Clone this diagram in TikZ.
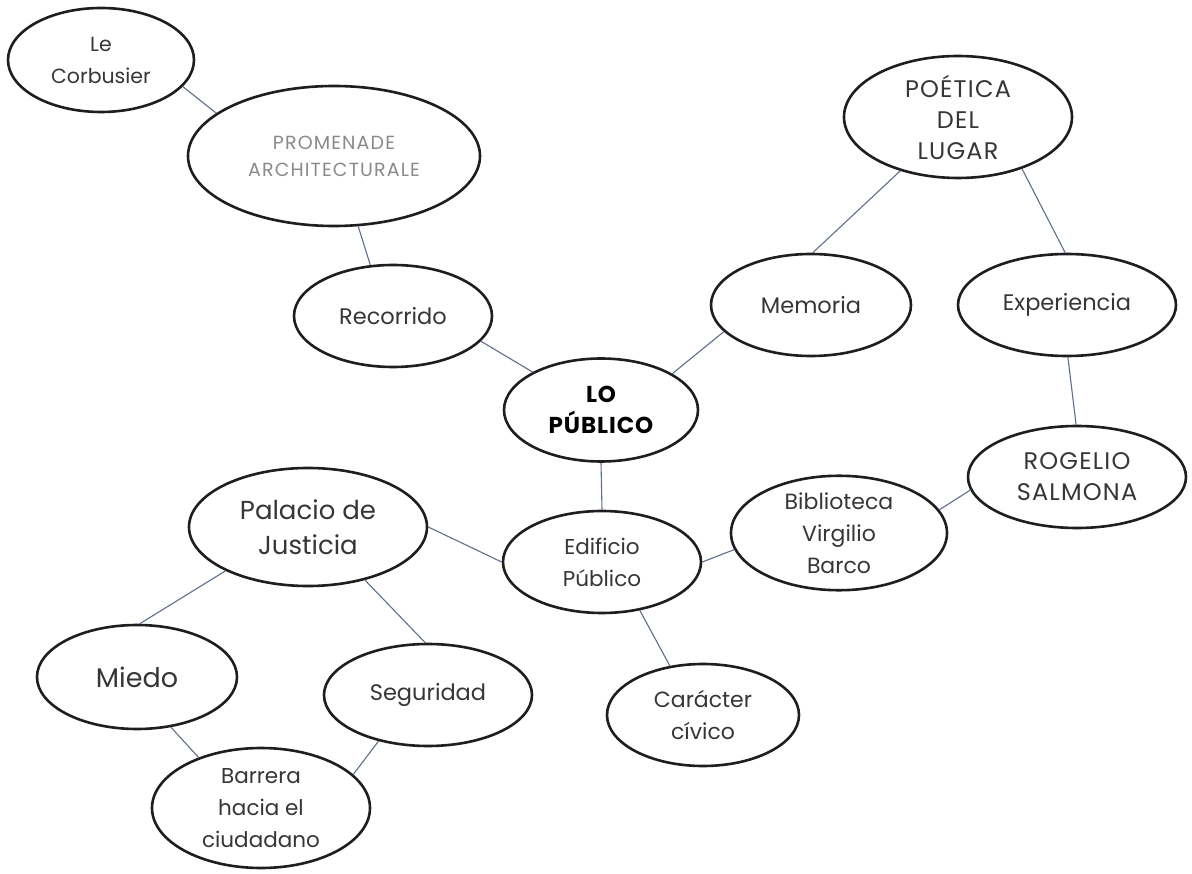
\documentclass[tikz,border=0pt]{standalone}
\usepackage{fontspec}
\setmainfont{Poppins}
\usetikzlibrary{shapes.geometric}
\definecolor{ink}{HTML}{363636}
\definecolor{paleink}{HTML}{8A8A8A}
\definecolor{rim}{HTML}{1E1E1E}
\definecolor{wirecol}{HTML}{5E6F8C}
\begin{document}
\begin{tikzpicture}[x=1pt,y=-1pt,
  bub/.style={ellipse,draw=rim,line width=2.6pt,inner sep=0pt,align=center,text=ink,
    font=\fontsize{22}{32}\selectfont},
  fs/.style={font=\fontsize{#1}{32}\selectfont},
  capstxt/.style={font=\fontsize{24}{31}\selectfont\addfontfeatures{LetterSpace=5}},
  wire/.style={draw=wirecol,line width=1.1pt}]
\useasboundingbox[fill=white] (0,0) rectangle (1192,874);

\node[bub,fs=20.5,minimum width=186,minimum height=104] (lc) at (101,60) {Le\\Corbusier};
\node[bub,minimum width=292,minimum height=140,text=paleink,font=\fontsize{19}{27}\selectfont\addfontfeatures{LetterSpace=6}] (pa) at (334,156) {PROMENADE\\ARCHITECTURALE};
\node[bub,fs=22.5,minimum width=198,minimum height=102] (rec) at (393,316) {Recorrido};
\node[bub,minimum width=194,minimum height=103,text=black,font=\bfseries\fontsize{23}{31}\selectfont\addfontfeatures{LetterSpace=4}] (lp) at (601,410) {LO\\PÚBLICO};
\node[bub,fs=22.5,minimum width=200,minimum height=102] (mem) at (811,305) {Memoria};
\node[bub,fs=22.5,minimum width=218,minimum height=102] (exp) at (1067,305) {Experiencia};
\node[bub,capstxt,minimum width=228,minimum height=122] (poe) at (958,117) {POÉTICA\\DEL\\LUGAR};
\node[bub,capstxt,minimum width=218,minimum height=102] (rog) at (1077,477) {ROGELIO\\SALMONA};
\node[bub,minimum width=216,minimum height=110] (bib) at (839,533) {Biblioteca\\Virgilio\\Barco};
\node[bub,fs=21.5,minimum width=198,minimum height=102] (edif) at (602,562) {Edificio\\Público};
\node[bub,minimum width=192,minimum height=102] (car) at (703,715) {Carácter\\cívico};
\node[bub,font=\fontsize{26}{35}\selectfont,minimum width=238,minimum height=118] (pal) at (308,527) {Palacio de\\Justicia};
\node[bub,font=\fontsize{27}{35}\selectfont,minimum width=200,minimum height=104] (miedo) at (137,677) {Miedo};
\node[bub,fs=22.5,minimum width=208,minimum height=102] (seg) at (428,695) {Seguridad};
\node[bub,fs=21.5,minimum width=218,minimum height=120] (bar) at (261,808) {Barrera\\hacia el\\ciudadano};

\draw[wire] (lc.-18) -- (pa.160);
\draw[wire] (pa.-71) -- (rec.114);
\draw[wire] (rec.-16) -- (lp.151);
\draw[wire] (lp.27) -- (mem.197);
\draw[wire] (mem.88) -- (poe.223);
\draw[wire] (poe.-39) -- (exp.92);
\draw[wire] (exp.-89) -- (rog.91);
\draw[wire] (rog.187) -- (bib.13);
\draw[wire] (bib.189) -- (edif.0);
\draw[wire] (lp.south) -- (edif.north);
\draw[wire] (pal.0) -- (edif.180);
\draw[wire] (edif.-52) -- (car.124);
\draw[wire] (pal.208) -- (miedo.87);
\draw[wire] (pal.-43) -- (seg.93);
\draw[wire] (miedo.-56) -- (bar.141);
\draw[wire] (seg.223) -- (bar.20);
\end{tikzpicture}
\end{document}
